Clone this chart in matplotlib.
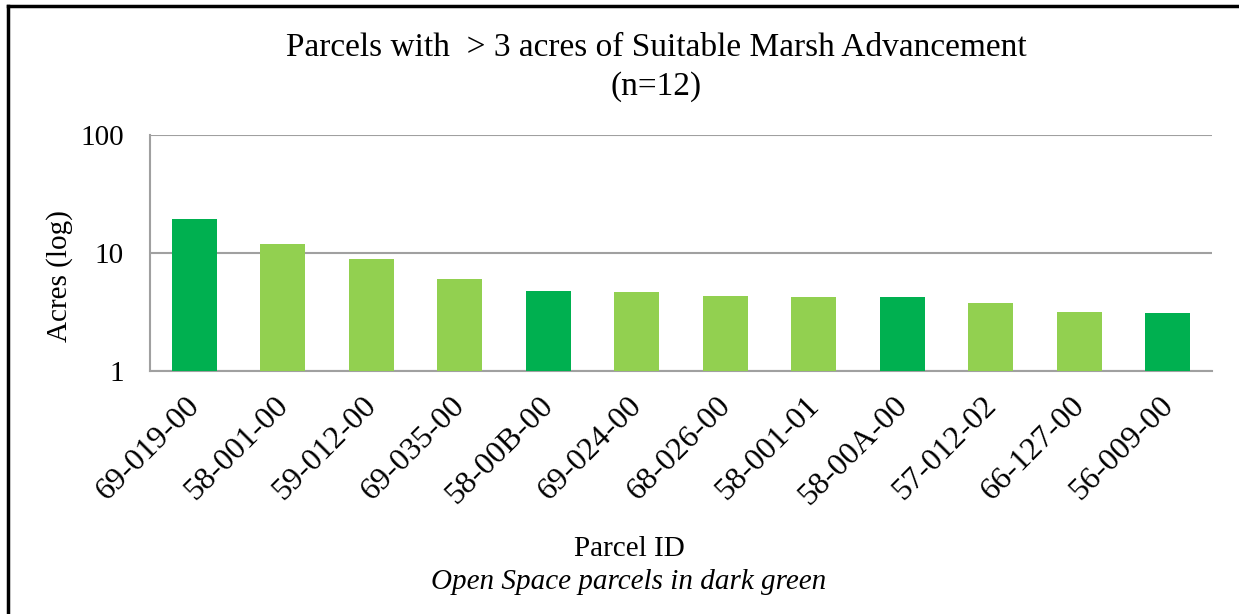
import matplotlib
matplotlib.use("Agg")
import matplotlib.pyplot as plt
from matplotlib.lines import Line2D
from matplotlib.transforms import ScaledTranslation

parcels = ["69-019-00", "58-001-00", "59-012-00", "69-035-00", "58-00B-00", "69-024-00",
           "68-026-00", "58-001-01", "58-00A-00", "57-012-02", "66-127-00", "56-009-00"]
acres = [19.4, 12.0, 8.85, 6.06, 4.79, 4.70, 4.35, 4.26, 4.24, 3.79, 3.14, 3.12]
open_space = [True, False, False, False, True, False, False, False, True, False, False, True]

DARK = "#00B050"
LIGHT = "#92D050"
FONT = ["Liberation Serif", "DejaVu Serif"]

plt.rcParams['font.family'] = FONT

W, H = 1239, 614
fig = plt.figure(figsize=(W / 100, H / 100), dpi=100)
fig.patch.set_facecolor("white")

ax = fig.add_axes([150 / W, 1 - 371 / H, (1212 - 150) / W, (371 - 135) / H])
x = list(range(len(parcels)))
colors = [DARK if o else LIGHT for o in open_space]
ax.bar(x, acres, width=0.51, color=colors, zorder=3)
ax.set_yscale("log")
ax.set_ylim(1, 100)
ax.set_xlim(-0.5, len(parcels) - 0.5)
ax.set_yticks([1, 10, 100])
ax.set_yticklabels(["1", "10", "100"])
ax.minorticks_off()
ax.yaxis.grid(True, color="#A0A0A0", linewidth=1.5, zorder=0)
for s in ["top", "right"]:
    ax.spines[s].set_visible(False)
for s in ["left", "bottom"]:
    ax.spines[s].set_color("#A0A0A0")
    ax.spines[s].set_linewidth(1.5)
ax.tick_params(axis="both", length=0)
ax.tick_params(axis="y", pad=19, labelsize=21)
ax.tick_params(axis="x", pad=22, labelsize=23)
ax.set_xticks(x)
ax.set_xticklabels(parcels, rotation=45, ha="right", va="center", rotation_mode="anchor")
off = ScaledTranslation(1 / 100, 0, fig.dpi_scale_trans)
for lab in ax.get_xticklabels():
    lab.set_transform(lab.get_transform() + off)

fig.text(60 / W, 1 - 276 / H, "Acres (log)", rotation=90, ha="center", va="center", fontsize=21)

fig.text(656 / W, 1 - 48 / H, "Parcels with  > 3 acres of Suitable Marsh Advancement",
         ha="center", va="center", fontsize=24)
fig.text(656 / W, 1 - 87 / H, "(n=12)", ha="center", va="center", fontsize=24)
fig.text(629 / W, 1 - 549 / H, "Parcel ID", ha="center", va="center", fontsize=21)
fig.text(629 / W, 1 - 582 / H, "Open Space parcels in dark green", ha="center", va="center",
         fontsize=21, style="italic")

# outer border (left and top visible)
fig.add_artist(Line2D([8 / W, 8 / W], [0, 1 - 6 / H], transform=fig.transFigure,
                      color="black", linewidth=2.5))
fig.add_artist(Line2D([8 / W, 1], [1 - 6 / H, 1 - 6 / H], transform=fig.transFigure,
                      color="black", linewidth=2.5))

fig.savefig("out.png", dpi=100, facecolor="white")
